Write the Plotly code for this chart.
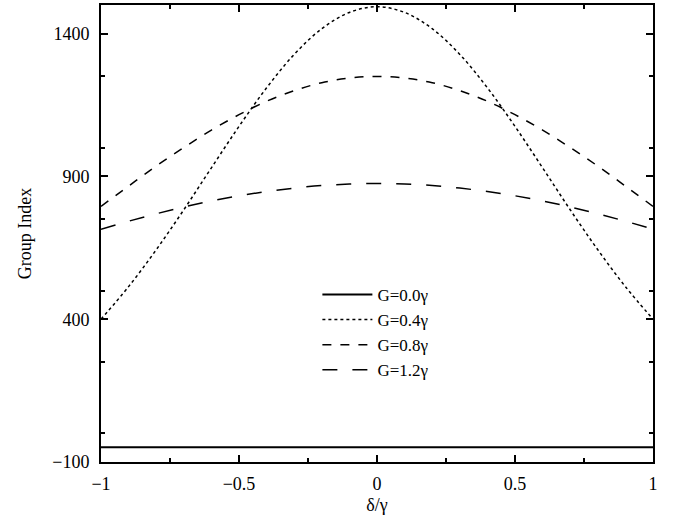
import plotly.graph_objects as go

x_vals = [-1.0, -0.9, -0.8, -0.7, -0.6, -0.5, -0.4, -0.3, -0.2, -0.1, 0.0,
          0.1, 0.2, 0.3, 0.4, 0.5, 0.6, 0.7, 0.8, 0.9, 1.0]
g00 = [-48] * 21
g04 = [400, 514, 643, 783, 930, 1075, 1210, 1327, 1417, 1474, 1494,
       1474, 1417, 1327, 1210, 1075, 930, 783, 643, 514, 400]
g08 = [795, 866, 936, 1001, 1062, 1116, 1163, 1200, 1228, 1244, 1250,
       1244, 1228, 1200, 1163, 1116, 1062, 1001, 936, 866, 795]
g12 = [715, 743, 769, 793, 814, 832, 847, 859, 868, 873, 875,
       873, 868, 859, 847, 832, 814, 793, 769, 743, 715]
names = ["G=0.0γ", "G=0.4γ", "G=0.8γ", "G=1.2γ"]

font = "Liberation Serif, Times New Roman, serif"

fig = go.Figure()
styles = [("solid", 2), ("dot", 1.5), ("dash", 1.5), ("longdash", 1.5)]
for ys, nm, (dash, w) in zip([g00, g04, g08, g12], names, styles):
    fig.add_trace(go.Scatter(x=x_vals, y=ys, mode="lines", name=nm,
                             line=dict(color="black", width=w, dash=dash, shape="spline")))

axis_common = dict(showline=True, linecolor="black", linewidth=2, mirror="allticks",
                   ticks="inside", ticklen=7, tickwidth=1.5, tickcolor="black",
                   showgrid=False, zeroline=False,
                   tickfont=dict(family=font, size=18, color="black"))

fig.update_xaxes(range=[-1, 1], tick0=-1, dtick=0.5,
                 minor=dict(dtick=0.25, ticks="inside", ticklen=4, tickcolor="black", tickwidth=1.5),
                 title=dict(text="δ/γ", font=dict(family=font, size=18, color="black"), standoff=6),
                 ticklabelstandoff=4, **axis_common)
fig.update_yaxes(range=[-100, 1500], tick0=-100, dtick=500,
                 minor=dict(dtick=250, ticks="inside", ticklen=4, tickcolor="black", tickwidth=1.5),
                 title=dict(text="Group Index", font=dict(family=font, size=18, color="black"), standoff=16),
                 ticklabelstandoff=6, **axis_common)

fig.update_layout(
    width=673, height=518,
    margin=dict(l=101, r=20, t=3, b=56),
    paper_bgcolor="white", plot_bgcolor="white",
    font=dict(family=font, size=17, color="black"),
    legend=dict(x=0.392, y=0.405, xanchor="left", yanchor="top",
                bgcolor="rgba(0,0,0,0)", font=dict(family=font, size=17),
                tracegroupgap=0, itemwidth=50),
    showlegend=True,
)

fig.write_html("out.html", config={"displayModeBar": False},
               post_script="document.body.style.margin='0';document.body.style.padding='0';")
